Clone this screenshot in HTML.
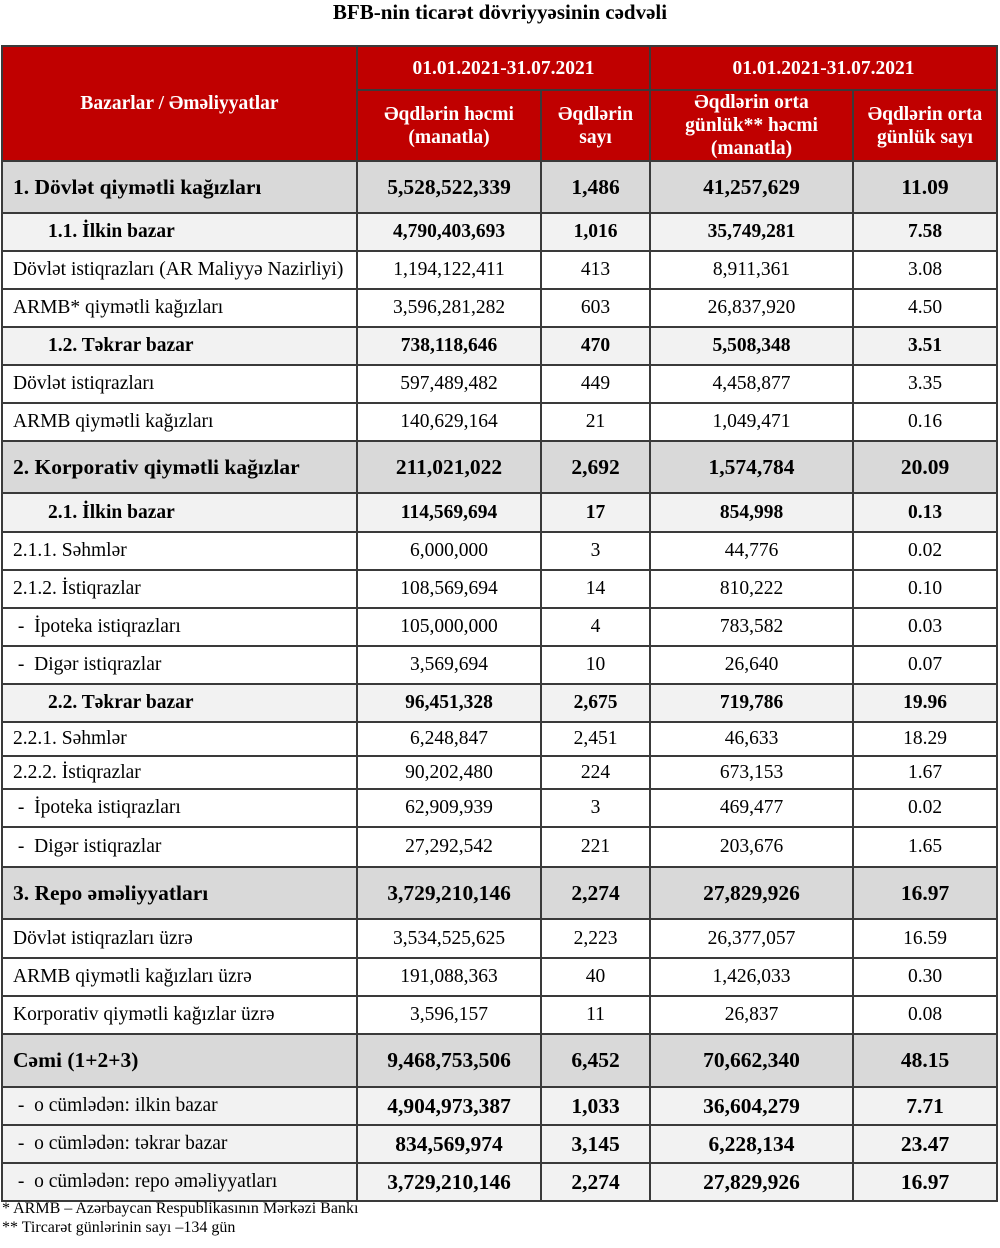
<!DOCTYPE html>
<html><head><meta charset="utf-8"><style>
body{margin:0;width:1000px;height:1248px;background:#fff;font-family:"Liberation Serif",serif;position:relative;overflow:hidden}
.title{position:absolute;top:0;left:0;width:1000px;text-align:center;font-weight:bold;font-size:21px;line-height:24px}
table{position:absolute;left:1px;top:45px;border-collapse:collapse;table-layout:fixed;width:995px}
td{border:2px solid #3a3a3a;padding:0 10px;font-size:19.5px;text-align:center;white-space:nowrap;overflow:hidden}
td:first-child{text-align:left}
.h td{background:#c00000;color:#fff;font-weight:bold;font-size:19.5px;line-height:23px;text-align:center;padding:0 4px}
.m td{background:#d9d9d9;font-weight:bold;font-size:21.5px}
.s td{background:#f2f2f2;font-weight:bold;font-size:19.5px}
.s td:first-child{padding-left:45px}
.t td{background:#f2f2f2;font-weight:bold;font-size:21.5px}
.t td:first-child{font-weight:normal;font-size:19.5px}
.foot{position:absolute;left:2px;top:1199px;font-size:16px;line-height:19px}
</style></head><body>
<div class="title">BFB-nin ticarət dövriyyəsinin cədvəli</div>
<table>
<colgroup><col style="width:355px"><col style="width:184px"><col style="width:109px"><col style="width:203px"><col style="width:144px"></colgroup>
<tr class="h" style="height:44px"><td rowspan="2">Bazarlar / Əməliyyatlar</td><td colspan="2">01.01.2021-31.07.2021</td><td colspan="2">01.01.2021-31.07.2021</td></tr>
<tr class="h" style="height:71px"><td>Əqdlərin həcmi<br>(manatla)</td><td>Əqdlərin<br>sayı</td><td>Əqdlərin orta<br>günlük** həcmi<br>(manatla)</td><td>Əqdlərin orta<br>günlük sayı</td></tr>
<tr class="m" style="height:52px"><td>1. Dövlət qiymətli kağızları</td><td>5,528,522,339</td><td>1,486</td><td>41,257,629</td><td>11.09</td></tr>
<tr class="s" style="height:38px"><td>1.1. İlkin bazar</td><td>4,790,403,693</td><td>1,016</td><td>35,749,281</td><td>7.58</td></tr>
<tr style="height:38px"><td>Dövlət istiqrazları (AR Maliyyə Nazirliyi)</td><td>1,194,122,411</td><td>413</td><td>8,911,361</td><td>3.08</td></tr>
<tr style="height:38px"><td>ARMB* qiymətli kağızları</td><td>3,596,281,282</td><td>603</td><td>26,837,920</td><td>4.50</td></tr>
<tr class="s" style="height:38px"><td>1.2. Təkrar bazar</td><td>738,118,646</td><td>470</td><td>5,508,348</td><td>3.51</td></tr>
<tr style="height:38px"><td>Dövlət istiqrazları</td><td>597,489,482</td><td>449</td><td>4,458,877</td><td>3.35</td></tr>
<tr style="height:38px"><td>ARMB qiymətli kağızları</td><td>140,629,164</td><td>21</td><td>1,049,471</td><td>0.16</td></tr>
<tr class="m" style="height:52px"><td>2. Korporativ qiymətli kağızlar</td><td>211,021,022</td><td>2,692</td><td>1,574,784</td><td>20.09</td></tr>
<tr class="s" style="height:39px"><td>2.1. İlkin bazar</td><td>114,569,694</td><td>17</td><td>854,998</td><td>0.13</td></tr>
<tr style="height:38px"><td>2.1.1. Səhmlər</td><td>6,000,000</td><td>3</td><td>44,776</td><td>0.02</td></tr>
<tr style="height:38px"><td>2.1.2. İstiqrazlar</td><td>108,569,694</td><td>14</td><td>810,222</td><td>0.10</td></tr>
<tr style="height:38px"><td>&nbsp;-&nbsp; İpoteka istiqrazları</td><td>105,000,000</td><td>4</td><td>783,582</td><td>0.03</td></tr>
<tr style="height:38px"><td>&nbsp;-&nbsp; Digər istiqrazlar</td><td>3,569,694</td><td>10</td><td>26,640</td><td>0.07</td></tr>
<tr class="s" style="height:38px"><td>2.2. Təkrar bazar</td><td>96,451,328</td><td>2,675</td><td>719,786</td><td>19.96</td></tr>
<tr style="height:34px"><td>2.2.1. Səhmlər</td><td>6,248,847</td><td>2,451</td><td>46,633</td><td>18.29</td></tr>
<tr style="height:33px"><td>2.2.2. İstiqrazlar</td><td>90,202,480</td><td>224</td><td>673,153</td><td>1.67</td></tr>
<tr style="height:38px"><td>&nbsp;-&nbsp; İpoteka istiqrazları</td><td>62,909,939</td><td>3</td><td>469,477</td><td>0.02</td></tr>
<tr style="height:40px"><td>&nbsp;-&nbsp; Digər istiqrazlar</td><td>27,292,542</td><td>221</td><td>203,676</td><td>1.65</td></tr>
<tr class="m" style="height:52px"><td>3. Repo əməliyyatları</td><td>3,729,210,146</td><td>2,274</td><td>27,829,926</td><td>16.97</td></tr>
<tr style="height:39px"><td>Dövlət istiqrazları üzrə</td><td>3,534,525,625</td><td>2,223</td><td>26,377,057</td><td>16.59</td></tr>
<tr style="height:38px"><td>ARMB qiymətli kağızları üzrə</td><td>191,088,363</td><td>40</td><td>1,426,033</td><td>0.30</td></tr>
<tr style="height:38px"><td>Korporativ qiymətli kağızlar üzrə</td><td>3,596,157</td><td>11</td><td>26,837</td><td>0.08</td></tr>
<tr class="m" style="height:53px"><td>Cəmi (1+2+3)</td><td>9,468,753,506</td><td>6,452</td><td>70,662,340</td><td>48.15</td></tr>
<tr class="t" style="height:38px"><td>&nbsp;-&nbsp; o cümlədən: ilkin bazar</td><td>4,904,973,387</td><td>1,033</td><td>36,604,279</td><td>7.71</td></tr>
<tr class="t" style="height:38px"><td>&nbsp;-&nbsp; o cümlədən: təkrar bazar</td><td>834,569,974</td><td>3,145</td><td>6,228,134</td><td>23.47</td></tr>
<tr class="t" style="height:38px"><td>&nbsp;-&nbsp; o cümlədən: repo əməliyyatları</td><td>3,729,210,146</td><td>2,274</td><td>27,829,926</td><td>16.97</td></tr>
</table>
<div class="foot">* ARMB – Azərbaycan Respublikasının Mərkəzi Bankı<br>** Tircarət günlərinin sayı –134 gün</div>
</body></html>
